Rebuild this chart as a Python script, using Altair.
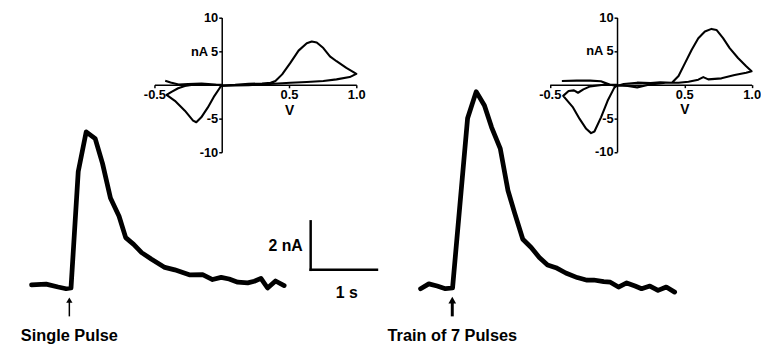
import altair as alt
import pandas as pd

W, H = 761, 338
FONT = "Liberation Sans, Arial, Helvetica, sans-serif"

# ---------------- data ----------------
# Amperometric traces: time (s, relative to stimulation) and current (nA)
t_single = [-0.57, -0.35, -0.17, -0.05, 0.025, 0.134, 0.254, 0.39, 0.50, 0.62, 0.75, 0.85, 0.97, 1.09,
            1.24, 1.44, 1.59, 1.82, 2.01, 2.16, 2.29, 2.41, 2.54, 2.69, 2.79, 2.89, 2.99, 3.11, 3.24]
i_single = [0.0, 0.03, -0.09, -0.16, -0.13, 4.67, 6.31, 6.03, 5.01, 3.58, 2.83, 1.95, 1.67, 1.33,
            1.06, 0.72, 0.62, 0.41, 0.42, 0.22, 0.31, 0.24, 0.11, 0.08, 0.15, 0.27, -0.13, 0.16, -0.03]

t_train = [-0.478, -0.354, -0.228, -0.104, 0.004, 0.231, 0.361, 0.485, 0.593, 0.724, 0.840, 0.940,
           1.064, 1.190, 1.313, 1.437, 1.563, 1.712, 1.885, 2.034, 2.134, 2.284, 2.384, 2.507, 2.631,
           2.757, 2.855, 2.981, 3.104, 3.228, 3.354]
i_train = [-0.16, 0.04, -0.05, -0.16, -0.13, 6.87, 7.97, 7.40, 6.50, 5.62, 3.89, 2.97,
           1.88, 1.54, 1.13, 0.82, 0.71, 0.49, 0.30, 0.19, 0.20, 0.13, 0.11, -0.09, 0.08,
           -0.05, -0.16, -0.05, -0.23, -0.09, -0.30]

# Cyclic voltammograms: potential (V) and current (nA), in drawing order
cv1_v = [-0.42, -0.38, -0.32, -0.25, -0.15, -0.05, 0.0, 0.1, 0.2, 0.3,
         0.363, 0.399, 0.449, 0.510, 0.571, 0.632, 0.669, 0.706, 0.755, 0.804,
         0.853, 0.926, 0.976, 1.0,
         0.951, 0.853, 0.755, 0.632, 0.51, 0.388,
         0.3, 0.2, 0.1, 0.0,
         -0.005, -0.054, -0.103, -0.152, -0.189, -0.213, -0.274, -0.348, -0.41,
         -0.373, -0.324, -0.274, -0.226, -0.15, -0.05, 0.0]
cv1_i = [0.6, 0.35, 0.05, 0.12, 0.2, 0.05, -0.1, 0.0, 0.15, 0.2,
         0.32, 0.56, 1.55, 3.25, 5.07, 6.18, 6.43, 6.28, 5.45, 4.23,
         3.50, 2.51, 1.93, 1.63,
         1.15, 0.81, 0.56, 0.42, 0.32, 0.17,
         0.05, -0.05, -0.1, -0.15,
         -0.17, -1.63, -3.35, -4.82, -5.55, -5.30, -3.83, -2.37, -1.5,
         -1.05, -0.51, -0.17, -0.02, 0.1, 0.0, 0.0]

cv2_v = [-0.41, -0.3, -0.2, -0.12, -0.05, 0.0, 0.05, 0.15, 0.25, 0.32, 0.408,
         0.457, 0.506, 0.555, 0.604, 0.653, 0.702, 0.739, 0.788, 0.837, 0.899, 0.96, 1.0,
         0.96, 0.874, 0.776, 0.678, 0.641, 0.604, 0.531, 0.457, 0.36, 0.25, 0.15, 0.08, 0.0,
         -0.02, -0.07, -0.119, -0.168, -0.193, -0.229, -0.278, -0.327, -0.40,
         -0.36, -0.32, -0.29, -0.25, -0.2, -0.1, 0.0]
cv2_i = [0.55, 0.6, 0.6, 0.5, 0.0, -0.2, 0.1, 0.3, 0.25, 0.35, 0.29,
         1.28, 3.24, 5.2, 6.9, 7.9, 8.29, 8.14, 6.91, 5.44, 3.97, 2.75, 2.0,
         1.76, 1.43, 0.94, 0.79, 1.13, 0.74, 0.44, 0.29, 0.29, 0.05, -0.4, -0.2, -0.1,
         -0.44, -2.4, -4.85, -6.96, -7.2, -6.56, -5.09, -3.38, -1.66,
         -0.95, -0.85, -1.2, -0.7, -0.25, 0.0, 0.0]

panel_labels = ["Single Pulse", "Train of 7 Pulses"]
stim_time = 0.0
arrow_head_nA = -0.63
arrow_tail_nA = -1.3
label_nA = -2.3

bar_origin = [3.64, 0.62]      # s, nA
bar_len = [1.0, 2.0]           # 1 s, 2 nA
bar_texts = ["1 s", "2 nA"]

cv_x_dom = [-0.5, 1.0]
cv_y_dom = [-10, 10]
cv_x_ticks = [-0.5, 0.5, 1.0]
cv_y_ticks = [-10, -5, 5, 10]

# ---------------- layout (scale ranges in pixels) ----------------
TR_Y_DOM = [-2.5, 8.5]
TR_Y_RNG = [339.25, 69.75]
TR1_X_DOM, TR1_X_RNG = [-1, 5], [-5, 397]
TR2_X_DOM, TR2_X_RNG = [-1, 4], [382, 717]
CV1_X_RNG, CV1_Y_RNG = [148, 352], [144, 7.7]
CV2_X_RNG, CV2_Y_RNG = [547.5, 751.5], [143.7, 7.7]


def sc(dom, rng):
    return alt.Scale(domain=dom, range=rng, nice=False, zero=False)


def lin(val, dom, rng):
    return rng[0] + (rng[1] - rng[0]) * (val - dom[0]) / (dom[1] - dom[0])


def trace_layers(t, i, xdom, xrng, label, head_size, shaft_w):
    df = pd.DataFrame({"t": t, "nA": i, "k": range(len(t))})
    X = lambda f: alt.X(f, type="quantitative", scale=sc(xdom, xrng), axis=None)
    Y = lambda f: alt.Y(f, type="quantitative", scale=sc(TR_Y_DOM, TR_Y_RNG), axis=None)
    line = alt.Chart(df).mark_line(color="black", strokeWidth=4.8, strokeJoin="round",
                                   strokeCap="round").encode(x=X("t"), y=Y("nA"), order="k:Q")
    adf = pd.DataFrame({"t": [stim_time], "y1": [arrow_head_nA], "y2": [arrow_tail_nA],
                        "ly": [label_nA], "txt": [label]})
    shaft = alt.Chart(adf).mark_rule(color="black", strokeWidth=shaft_w).encode(
        x=X("t"), y=Y("y1"), y2="y2")
    head = alt.Chart(adf).mark_point(shape="triangle-up", filled=True, color="black",
                                     opacity=1, size=head_size).encode(x=X("t"), y=Y("y1"))
    txt = alt.Chart(adf).mark_text(font=FONT, fontSize=16.5, fontWeight="bold", color="black",
                                   align="center", baseline="alphabetic").encode(
        x=X("t"), y=Y("ly"), text="txt:N")
    return [line, shaft, head, txt]


def scalebar_layers():
    t0, y0 = bar_origin
    bdf = pd.DataFrame({"x1": [t0, t0], "x2": [t0, t0 + bar_len[0]],
                        "y1": [y0, y0], "y2": [y0 + bar_len[1], y0]})
    X = lambda f: alt.X(f, type="quantitative", scale=sc(TR1_X_DOM, TR1_X_RNG), axis=None)
    Y = lambda f: alt.Y(f, type="quantitative", scale=sc(TR_Y_DOM, TR_Y_RNG), axis=None)
    bars = alt.Chart(bdf).mark_rule(color="black", strokeWidth=2.5, strokeCap="square").encode(
        x=X("x1"), x2="x2", y=Y("y1"), y2="y2")
    tdf_s = pd.DataFrame({"x": [t0 + bar_len[0] / 2], "y": [y0], "txt": [bar_texts[0]]})
    tdf_a = pd.DataFrame({"x": [t0], "y": [y0 + bar_len[1] / 2], "txt": [bar_texts[1]]})
    ts = alt.Chart(tdf_s).mark_text(font=FONT, fontSize=16, fontWeight="bold", color="black",
                                    align="center", baseline="top", dy=15, dx=3).encode(
        x=X("x"), y=Y("y"), text="txt:N")
    ta = alt.Chart(tdf_a).mark_text(font=FONT, fontSize=16, fontWeight="bold", color="black",
                                    align="right", baseline="middle", dx=-8).encode(
        x=X("x"), y=Y("y"), text="txt:N")
    return [bars, ts, ta]


MINUS = "\u2212"
AXIS_STYLE = dict(domainColor="black", domainWidth=1.5, tickColor="black", tickWidth=1.5,
                  tickSize=3, labelFont=FONT, labelFontSize=13, labelFontWeight="bold",
                  labelColor="black", labelPadding=1, grid=False, labelFlush=False,
                  labelOverlap=False)


def cv_layer(v, i, xrng, yrng):
    df = pd.DataFrame({"V": v, "I": i, "k": range(len(v))})
    y_zero_px = lin(0, cv_y_dom, yrng)
    x_zero_px = lin(0, cv_x_dom, xrng)
    x_title_px = lin(0.5, cv_x_dom, xrng)
    xaxis = alt.Axis(orient="bottom", offset=y_zero_px - H, values=cv_x_ticks,
                     format=".1f", labelExpr="replace(datum.label, '" + MINUS + "', '-')",
                     title="V", titleX=x_title_px, titleY=29.5, titleBaseline="alphabetic",
                     titleAlign="center", titleFont=FONT, titleFontSize=14,
                     titleFontWeight="bold", titleColor="black", **AXIS_STYLE)
    yaxis = alt.Axis(orient="left", offset=-x_zero_px, values=cv_y_ticks,
                     labelExpr="datum.value == 5 ? 'nA 5' : replace(datum.label, '" + MINUS + "', '-')",
                     title=None, **AXIS_STYLE)
    return alt.Chart(df).mark_line(color="black", strokeWidth=2.1, strokeJoin="round").encode(
        x=alt.X("V:Q", scale=sc(cv_x_dom, xrng), axis=xaxis),
        y=alt.Y("I:Q", scale=sc(cv_y_dom, yrng), axis=yaxis),
        order="k:Q")


layers = []
layers += trace_layers(t_single, i_single, TR1_X_DOM, TR1_X_RNG, panel_labels[0], 40, 1.5)
layers += trace_layers(t_train, i_train, TR2_X_DOM, TR2_X_RNG, panel_labels[1], 60, 3)
layers += scalebar_layers()
layers.append(cv_layer(cv1_v, cv1_i, CV1_X_RNG, CV1_Y_RNG))
layers.append(cv_layer(cv2_v, cv2_i, CV2_X_RNG, CV2_Y_RNG))

chart = alt.layer(*layers).resolve_scale(x="independent", y="independent").resolve_axis(
    x="independent", y="independent").properties(
    width=W, height=H, padding=0, autosize=alt.AutoSizeParams(type="none"),
    background="white").configure_view(strokeWidth=0)

chart.save("out.html", embed_options={"renderer": "svg", "actions": False})
